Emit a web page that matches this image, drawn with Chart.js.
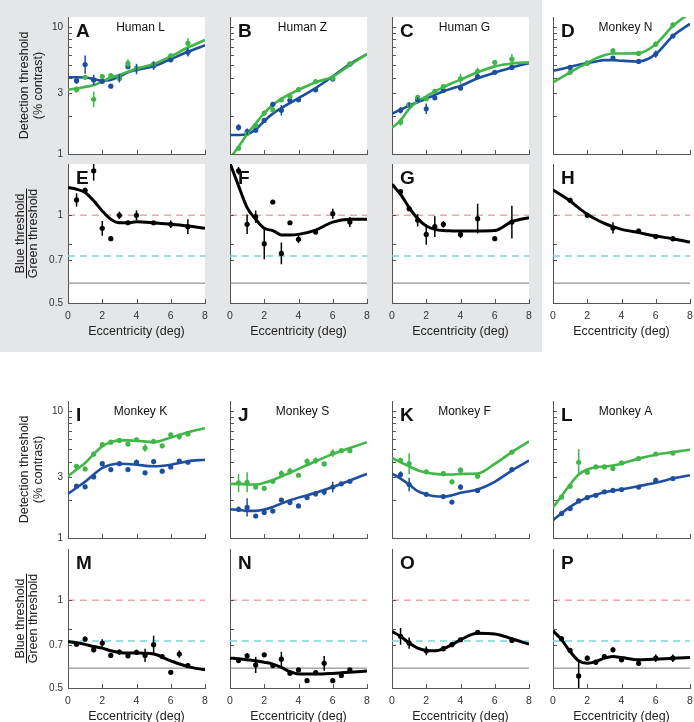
<!DOCTYPE html>
<html>
<head>
<meta charset="utf-8">
<script src="https://cdn.jsdelivr.net/npm/chart.js@4.4.1/dist/chart.umd.min.js"></script>
<style>
  body { margin: 0; width: 694px; height: 722px; overflow: hidden; background: #fff; position: relative; }
  #shade { position: absolute; left: 0; top: 0; width: 542px; height: 352px; background: #e5e6e7; }
  canvas { position: absolute; }
</style>
</head>
<body>
<div id="shade"></div>
<script>
const fitX = [0, 0.5, 1, 1.5, 2, 2.5, 3, 3.5, 4, 5, 6, 7, 8];
const xTicks = [0, 2, 4, 6, 8];
const thrTicks = [1, 2, 3, 4, 5, 6, 7, 8, 9, 10];
const thrLabels = [1, 3, 10];
const ratioTicks = [0.5, 0.7, 0.8, 1];
const ratioLabels = [0.5, 0.7, 1];
const refLevels = [1, 0.725, 0.585]; // red dashed, cyan dashed, grey solid

// A  Human L
const eccA = [0.5, 1, 1.5, 2, 2.5, 3, 3.5, 4, 5, 6, 7];
const greenA = [3.22, 4.02, 2.70, 4.07, 4.14, 3.95, 5.17, 4.75, 5.11, 5.94, 7.44];
const greenErrA = [1.06, 1, 1.15, 1.05, 1.04, 1, 1.08, 1.04, 1, 1.04, 1.1];
const blueA = [3.78, 5.07, 3.83, 3.74, 3.42, 3.95, 4.87, 4.67, 4.96, 5.52, 6.34];
const blueErrA = [1.06, 1.18, 1.1, 1.04, 1, 1.08, 1, 1.1, 1.08, 1.04, 1.08];
const fitGreenA = [3.22, 3.28, 3.38, 3.48, 3.72, 4.0, 4.19, 4.45, 4.70, 5.11, 5.87, 6.90, 7.91];
const fitBlueA = [4.02, 4.02, 4.0, 3.90, 3.78, 3.83, 4.07, 4.40, 4.61, 4.90, 5.59, 6.38, 7.19];

// B  Human Z
const eccB = [0.5, 1, 1.5, 2, 2.5, 3, 3.5, 4, 5, 6, 7];
const greenB = [1.11, 1.45, 1.68, 2.10, 2.23, 2.67, 2.84, 3.22, 3.72, 3.95, 5.11];
const greenErrB = [1.04, 1, 1.05, 1.05, 1.05, 1.04, 1, 1, 1, 1, 1.03];
const blueB = [1.62, 1.50, 1.54, 1.84, 2.46, 2.21, 2.64, 2.67, 3.20, 3.90, 5.11];
const blueErrB = [1.06, 1.06, 1.04, 1.04, 1.04, 1.1, 1, 1, 1, 1, 1];
const fitGreenB = [0.925, 1.14, 1.43, 1.74, 2.10, 2.44, 2.72, 2.98, 3.20, 3.67, 4.07, 5.02, 6.12];
const fitBlueB = [1.41, 1.41, 1.43, 1.56, 1.82, 2.08, 2.30, 2.52, 2.75, 3.30, 4.09, 5.11, 6.12];

// C  Human G
const eccC = [0.5, 1, 1.5, 2, 2.5, 3, 4, 5, 6, 7];
const greenC = [1.79, 2.44, 2.80, 2.72, 3.12, 3.39, 3.90, 4.48, 5.27, 5.58];
const greenErrC = [1.07, 1, 1.04, 1, 1.04, 1.03, 1.1, 1.07, 1.04, 1.1];
const blueC = [2.21, 2.44, 2.69, 2.27, 2.77, 3.16, 3.31, 4.07, 4.40, 4.81];
const blueErrC = [1.06, 1.04, 1.04, 1.1, 1.04, 1, 1.05, 1.05, 1, 1];
const fitGreenC = [1.61, 1.84, 2.27, 2.61, 2.84, 3.11, 3.36, 3.61, 3.85, 4.40, 4.90, 5.17, 5.27];
const fitBlueC = [2.08, 2.23, 2.41, 2.56, 2.72, 2.92, 3.12, 3.28, 3.44, 3.95, 4.37, 4.81, 5.20];

// D  Monkey N
const eccD = [1, 2, 3.5, 5, 6, 7];
const greenD = [4.40, 5.2, 6.5, 6.2, 7.33, 10.4];
const greenErrD = [1.03, 1, 1.05, 1.03, 1.05, 1.05];
const blueD = [4.81, 5.2, 5.7, 5.36, 6.12, 8.5];
const blueErrD = [1.03, 1, 1.04, 1, 1.07, 1.03];
const fitGreenD = [3.67, 4.02, 4.40, 4.81, 5.2, 5.66, 6.0, 6.19, 6.19, 6.23, 7.33, 10.2, 12.9];
const fitBlueD = [4.53, 4.67, 4.87, 5.05, 5.2, 5.36, 5.49, 5.49, 5.43, 5.36, 6.12, 8.5, 10.6];

// E-H  blue/green ratio, top block
const eccE = [0.5, 1, 1.5, 2, 2.5, 3, 3.5, 4, 5, 6, 7];
const ratioE = [1.129, 1.219, 1.421, 0.902, 0.831, 1.0, 0.943, 1.0, 0.943, 0.931, 0.914];
const ratioErrE = [1.054, 1.02, 1.08, 1.06, 1, 1.03, 1, 1.04, 1, 1.03, 1.06];
const fitRatioE = [1.245, 1.229, 1.197, 1.121, 1.035, 0.969, 0.943, 0.943, 0.951, 0.943, 0.931, 0.919, 0.902];

const eccF = [0.5, 1, 1.5, 2, 2.5, 3, 3.5, 4, 5, 6, 7];
const ratioF = [1.421, 0.931, 0.989, 0.799, 1.111, 0.740, 0.943, 0.827, 0.876, 1.013, 0.948];
const ratioErrF = [1.03, 1.08, 1.05, 1.13, 1, 1.09, 1, 1.03, 1, 1.04, 1.04];
const fitRatioF = [1.51, 1.262, 1.063, 0.969, 0.902, 0.886, 0.856, 0.855, 0.86, 0.89, 0.948, 0.969, 0.969];

const eccG = [0.5, 1, 1.5, 2, 2.5, 3, 4, 5, 6, 7];
const ratioG = [1.206, 1.054, 0.961, 0.86, 0.914, 0.931, 0.86, 0.974, 0.831, 0.948];
const ratioErrG = [1.02, 1.02, 1.05, 1.085, 1.085, 1.027, 1.03, 1.125, 1, 1.138];
const fitRatioG = [1.279, 1.181, 1.063, 0.974, 0.919, 0.895, 0.886, 0.884, 0.883, 0.883, 0.886, 0.951, 0.982];

const eccH = [1, 2, 3.5, 5, 6, 7];
const ratioH = [1.126, 1.0, 0.905, 0.883, 0.845, 0.831];
const ratioErrH = [1.02, 1.02, 1.045, 1.02, 1.02, 1.02];
const fitRatioH = [1.222, 1.172, 1.12, 1.06, 1.008, 0.969, 0.938, 0.914, 0.895, 0.872, 0.849, 0.831, 0.809];

// I  Monkey K
const eccI = [0.5, 1, 1.5, 2, 2.5, 3, 3.5, 4, 4.5, 5, 5.5, 6, 6.5, 7];
const greenI = [3.67, 3.50, 4.58, 5.43, 5.69, 5.87, 5.49, 5.94, 5.11, 5.77, 5.32, 6.50, 6.30, 6.61];
const greenErrI = [1.03, 1, 1.05, 1, 1, 1.03, 1, 1.04, 1.07, 1, 1, 1, 1.06, 1];
const blueI = [2.56, 2.53, 3.03, 3.85, 3.46, 3.85, 3.46, 3.95, 3.26, 4.0, 3.36, 3.63, 4.04, 3.95];
const blueErrI = [1, 1.04, 1.03, 1, 1, 1, 1, 1.05, 1, 1.05, 1, 1, 1, 1.03];
const fitGreenI = [3.07, 3.46, 3.90, 4.58, 5.27, 5.69, 5.87, 5.87, 5.83, 5.69, 6.19, 6.81, 7.33];
const fitBlueI = [2.23, 2.49, 2.77, 3.16, 3.56, 3.78, 3.85, 3.83, 3.78, 3.67, 3.78, 4.02, 4.14];

// J  Monkey S
const eccJ = [0.5, 1, 1.5, 2, 2.5, 3, 3.5, 4, 4.5, 5, 5.5, 6, 6.5, 7];
const greenJ = [2.72, 2.75, 2.52, 2.46, 2.80, 3.22, 3.36, 3.12, 4.02, 4.07, 3.83, 4.67, 4.87, 4.87];
const greenErrJ = [1.18, 1.2, 1.03, 1, 1.04, 1.06, 1.06, 1, 1.05, 1.06, 1, 1.07, 1, 1];
const blueJ = [1.685, 1.74, 1.49, 1.59, 1.63, 1.99, 1.90, 1.79, 2.08, 2.23, 2.30, 2.52, 2.67, 2.80];
const blueErrJ = [1.05, 1.18, 1, 1, 1, 1, 1.04, 1, 1.03, 1.05, 1.06, 1.1, 1, 1];
const fitGreenJ = [2.67, 2.67, 2.64, 2.64, 2.72, 2.86, 3.05, 3.26, 3.50, 4.02, 4.58, 5.11, 5.69];
const fitBlueJ = [1.685, 1.665, 1.635, 1.635, 1.675, 1.757, 1.866, 1.98, 2.08, 2.27, 2.52, 2.84, 3.2];

// K  Monkey F
const eccK = [0.5, 1, 2, 3, 3.5, 4, 5, 7];
const greenK = [4.09, 3.85, 3.32, 3.22, 2.77, 3.42, 3.07, 4.75];
const greenErrK = [1.04, 1.21, 1.03, 1.05, 1.04, 1.05, 1.04, 1.04];
const blueK = [3.16, 2.64, 2.21, 2.12, 1.92, 2.52, 2.37, 3.46];
const blueErrK = [1.06, 1.13, 1.03, 1.03, 1, 1.05, 1.04, 1.03];
const fitGreenK = [4.27, 3.95, 3.67, 3.42, 3.28, 3.20, 3.16, 3.16, 3.20, 3.22, 3.83, 4.75, 5.77];
const fitBlueK = [3.22, 2.94, 2.64, 2.34, 2.21, 2.13, 2.12, 2.17, 2.27, 2.41, 2.77, 3.40, 4.07];

// L  Monkey A
const eccL = [0.5, 1, 1.5, 2, 2.5, 3, 3.5, 4, 5, 6, 7];
const greenL = [2.10, 2.56, 3.95, 3.30, 3.63, 3.63, 3.52, 3.90, 4.22, 4.59, 4.67];
const greenErrL = [1.03, 1.03, 1.27, 1.03, 1, 1.03, 1.04, 1.03, 1.03, 1, 1.03];
const blueL = [1.558, 1.705, 1.96, 2.08, 2.17, 2.31, 2.37, 2.41, 2.52, 2.84, 2.94];
const blueErrL = [1.03, 1.03, 1.04, 1.03, 1.03, 1.03, 1.04, 1.03, 1.04, 1.05, 1.03];
const fitGreenL = [1.74, 2.14, 2.64, 3.16, 3.46, 3.61, 3.65, 3.72, 3.85, 4.22, 4.53, 4.75, 4.96];
const fitBlueL = [1.38, 1.568, 1.757, 1.934, 2.08, 2.19, 2.29, 2.36, 2.41, 2.56, 2.72, 2.94, 3.12];

// M-P  blue/green ratio, bottom block
const eccM = [0.5, 1, 1.5, 2, 2.5, 3, 3.5, 4, 4.5, 5, 5.5, 6, 6.5, 7];
const ratioM = [0.707, 0.736, 0.676, 0.713, 0.647, 0.664, 0.645, 0.663, 0.647, 0.704, 0.641, 0.566, 0.654, 0.597];
const ratioErrM = [1.01, 1.02, 1.02, 1.03, 1, 1.02, 1, 1.02, 1.054, 1.074, 1, 1, 1.03, 1.02];
const fitRatioM = [0.722, 0.715, 0.706, 0.694, 0.685, 0.671, 0.662, 0.659, 0.659, 0.654, 0.620, 0.592, 0.577];

const eccN = [0.5, 1, 1.5, 2, 2.5, 3, 3.5, 4, 4.5, 5, 5.5, 6, 6.5, 7];
const ratioN = [0.621, 0.645, 0.600, 0.650, 0.597, 0.628, 0.562, 0.577, 0.530, 0.565, 0.608, 0.530, 0.552, 0.577];
const ratioErrN = [1.01, 1.02, 1.066, 1, 1, 1.06, 1.02, 1, 1, 1, 1.06, 1, 1, 1.01];
const fitRatioN = [0.633, 0.630, 0.625, 0.620, 0.613, 0.604, 0.588, 0.569, 0.558, 0.558, 0.561, 0.566, 0.572];

const eccO = [0.5, 1, 2, 3, 3.5, 4, 5, 7];
const ratioO = [0.752, 0.713, 0.671, 0.682, 0.704, 0.732, 0.776, 0.728];
const ratioErrO = [1.068, 1.045, 1.035, 1.02, 1.01, 1, 1.01, 1.01];
const fitRatioO = [0.782, 0.752, 0.713, 0.685, 0.673, 0.671, 0.682, 0.704, 0.732, 0.770, 0.766, 0.738, 0.707];

const eccP = [0.5, 1, 1.5, 2, 2.5, 3, 3.5, 4, 5, 6, 7];
const ratioP = [0.738, 0.673, 0.550, 0.633, 0.613, 0.641, 0.676, 0.625, 0.608, 0.633, 0.633];
const ratioErrP = [1.02, 1.02, 1.117, 1.02, 1.02, 1.02, 1.02, 1.02, 1.02, 1.03, 1.03];
const fitRatioP = [0.786, 0.732, 0.667, 0.620, 0.608, 0.616, 0.633, 0.641, 0.636, 0.625, 0.628, 0.633, 0.636];

const GREEN = "#41b649", BLUE = "#1e4f9f";
const FONT = '"Liberation Sans", Arial, Helvetica, sans-serif';
Chart.defaults.font.family = FONT;
Chart.defaults.color = "#222";

// layout of the grid (page pixels)
const colLeft = [68, 230, 392, 553];
const plotW = 138;
const thrTop = [17, 401], thrPlotH = 137;
const ratioTop = [164, 549], ratioPlotH = 139;
const xBoxH = 36;

const thresholdPanels = [
  { letter: "A", name: "Human L", col: 0, blk: 0, x: eccA, g: greenA, ge: greenErrA, b: blueA, be: blueErrA, fg: fitGreenA, fb: fitBlueA },
  { letter: "B", name: "Human Z", col: 1, blk: 0, x: eccB, g: greenB, ge: greenErrB, b: blueB, be: blueErrB, fg: fitGreenB, fb: fitBlueB },
  { letter: "C", name: "Human G", col: 2, blk: 0, x: eccC, g: greenC, ge: greenErrC, b: blueC, be: blueErrC, fg: fitGreenC, fb: fitBlueC },
  { letter: "D", name: "Monkey N", col: 3, blk: 0, x: eccD, g: greenD, ge: greenErrD, b: blueD, be: blueErrD, fg: fitGreenD, fb: fitBlueD },
  { letter: "I", name: "Monkey K", col: 0, blk: 1, x: eccI, g: greenI, ge: greenErrI, b: blueI, be: blueErrI, fg: fitGreenI, fb: fitBlueI },
  { letter: "J", name: "Monkey S", col: 1, blk: 1, x: eccJ, g: greenJ, ge: greenErrJ, b: blueJ, be: blueErrJ, fg: fitGreenJ, fb: fitBlueJ },
  { letter: "K", name: "Monkey F", col: 2, blk: 1, x: eccK, g: greenK, ge: greenErrK, b: blueK, be: blueErrK, fg: fitGreenK, fb: fitBlueK },
  { letter: "L", name: "Monkey A", col: 3, blk: 1, x: eccL, g: greenL, ge: greenErrL, b: blueL, be: blueErrL, fg: fitGreenL, fb: fitBlueL }
];
const ratioPanels = [
  { letter: "E", col: 0, blk: 0, x: eccE, r: ratioE, re: ratioErrE, fr: fitRatioE },
  { letter: "F", col: 1, blk: 0, x: eccF, r: ratioF, re: ratioErrF, fr: fitRatioF },
  { letter: "G", col: 2, blk: 0, x: eccG, r: ratioG, re: ratioErrG, fr: fitRatioG },
  { letter: "H", col: 3, blk: 0, x: eccH, r: ratioH, re: ratioErrH, fr: fitRatioH },
  { letter: "M", col: 0, blk: 1, x: eccM, r: ratioM, re: ratioErrM, fr: fitRatioM },
  { letter: "N", col: 1, blk: 1, x: eccN, r: ratioN, re: ratioErrN, fr: fitRatioN },
  { letter: "O", col: 2, blk: 1, x: eccO, r: ratioO, re: ratioErrO, fr: fitRatioO },
  { letter: "P", col: 3, blk: 1, x: eccP, r: ratioP, re: ratioErrP, fr: fitRatioP }
];

// white plot box, error bars, inward ticks, panel letters
const panelDecor = {
  id: "panelDecor",
  beforeDraw(chart) {
    const a = chart.chartArea, ctx = chart.ctx;
    ctx.save();
    ctx.fillStyle = "#fff";
    ctx.fillRect(a.left, a.top, a.right - a.left, a.bottom - a.top);
    ctx.restore();
  },
  afterDatasetsDraw(chart) {
    const a = chart.chartArea, ctx = chart.ctx, ys = chart.scales.y;
    ctx.save();
    ctx.beginPath();
    ctx.rect(a.left, a.top, a.right - a.left, a.bottom - a.top);
    ctx.clip();
    chart.data.datasets.forEach((ds, i) => {
      if (!ds.errs) return;
      const meta = chart.getDatasetMeta(i);
      ctx.strokeStyle = ds.borderColor;
      ctx.lineWidth = 1.5;
      meta.data.forEach((pt, j) => {
        const f = ds.errs[j];
        if (!f || f <= 1) return;
        const v = ds.data[j].y;
        ctx.beginPath();
        ctx.moveTo(pt.x, ys.getPixelForValue(v / f));
        ctx.lineTo(pt.x, ys.getPixelForValue(v * f));
        ctx.stroke();
      });
    });
    ctx.restore();
  },
  afterDraw(chart, args, opts) {
    const a = chart.chartArea, ctx = chart.ctx;
    const xs = chart.scales.x, ys = chart.scales.y;
    ctx.save();
    ctx.strokeStyle = "#555";
    ctx.lineWidth = 1;
    xs.ticks.forEach(t => {
      const px = Math.round(xs.getPixelForValue(t.value)) + 0.5;
      ctx.beginPath(); ctx.moveTo(px, a.bottom); ctx.lineTo(px, a.bottom - 4); ctx.stroke();
    });
    ys.ticks.forEach(t => {
      const py = Math.round(ys.getPixelForValue(t.value)) + 0.5;
      ctx.beginPath(); ctx.moveTo(a.left, py); ctx.lineTo(a.left + 4, py); ctx.stroke();
    });
    ctx.fillStyle = "#111";
    ctx.textAlign = "left";
    ctx.textBaseline = "alphabetic";
    ctx.font = "bold 19px " + FONT;
    ctx.fillText(opts.letter, a.left + 8, a.top + 20);
    if (opts.name) {
      ctx.font = "12px " + FONT;
      ctx.textAlign = "center";
      ctx.fillText(opts.name, (a.left + a.right) / 2 + 4, a.top + 14);
    }
    if (opts.fractionX) {
      // bar between "Blue threshold" and "Green threshold"
      ctx.font = "12.5px " + FONT;
      const w = ctx.measureText("Green threshold").width;
      const cy = (a.top + a.bottom) / 2;
      ctx.strokeStyle = "#111";
      ctx.beginPath(); ctx.moveTo(opts.fractionX, cy - w / 2); ctx.lineTo(opts.fractionX, cy + w / 2); ctx.stroke();
    }
    ctx.restore();
  }
};
Chart.register(panelDecor);

function pts(xs, ys) {
  return xs.map((x, i) => ({ x: x, y: ys[i] }));
}

function makeCanvas(left, top, w, h) {
  const c = document.createElement("canvas");
  c.width = w; c.height = h;
  c.style.left = left + "px"; c.style.top = top + "px";
  c.style.width = w + "px"; c.style.height = h + "px";
  document.body.appendChild(c);
  return c.getContext("2d");
}

function axisX(withLabels) {
  return {
    type: "linear", min: 0, max: 8,
    afterBuildTicks: s => { s.ticks = xTicks.map(v => ({ value: v })); },
    afterFit: s => { s.height = withLabels ? xBoxH : 8; s.paddingLeft = 0; s.paddingRight = 0; },
    grid: { display: false, drawTicks: false },
    border: { display: true, color: "#555", width: 1 },
    ticks: { display: withLabels, autoSkip: false, maxRotation: 0, padding: 7, color: "#333", font: { size: 10.5 } },
    title: { display: withLabels, text: "Eccentricity (deg)", color: "#222", font: { size: 12.5 }, padding: { top: 0, bottom: 0 } }
  };
}

function axisY(col, min, max, tickVals, labelVals, title) {
  const padL = col === 0 ? 68 : 8;
  return {
    type: "logarithmic", min: min, max: max,
    afterBuildTicks: s => { s.ticks = tickVals.map(v => ({ value: v })); },
    afterFit: s => { s.width = padL; s.paddingTop = 0; s.paddingBottom = 0; },
    grid: { display: false, drawTicks: false },
    border: { display: true, color: "#555", width: 1 },
    ticks: {
      display: col === 0, autoSkip: false, padding: 5, color: "#333", font: { size: 10 },
      callback: v => labelVals.includes(v) ? String(v) : ""
    },
    title: title && col === 0 ? title : { display: false }
  };
}

function baseOptions(scales, decor) {
  return {
    responsive: false, animation: false, devicePixelRatio: 1,
    layout: { padding: { top: 8, left: 0, right: 3, bottom: 0 } },
    scales: scales,
    plugins: { legend: { display: false }, tooltip: { enabled: false }, panelDecor: decor }
  };
}

thresholdPanels.forEach(p => {
  const padL = p.col === 0 ? 68 : 8;
  const ctx = makeCanvas(colLeft[p.col] - padL, thrTop[p.blk] - 8, padL + plotW + 3, 8 + thrPlotH + 8);
  new Chart(ctx, {
    type: "scatter",
    data: {
      datasets: [
        { data: pts(p.x, p.g), errs: p.ge, backgroundColor: GREEN, borderColor: GREEN, pointRadius: 2.6, pointBorderWidth: 0 },
        { data: pts(p.x, p.b), errs: p.be, backgroundColor: BLUE, borderColor: BLUE, pointRadius: 2.6, pointBorderWidth: 0 },
        { data: pts(fitX, p.fg), showLine: true, borderColor: GREEN, borderWidth: 2.6, pointRadius: 0, cubicInterpolationMode: "monotone", tension: 0.4 },
        { data: pts(fitX, p.fb), showLine: true, borderColor: BLUE, borderWidth: 2.6, pointRadius: 0, cubicInterpolationMode: "monotone", tension: 0.4 }
      ]
    },
    options: baseOptions({
      x: axisX(false),
      y: axisY(p.col, 1, 12, thrTicks, thrLabels, {
        display: true, text: ["Detection threshold", "(% contrast)"], color: "#222",
        font: { size: 12.5, lineHeight: 1.12 }, padding: { top: 18, bottom: 0 }
      })
    }, { letter: p.letter, name: p.name })
  });
});

ratioPanels.forEach(p => {
  const padL = p.col === 0 ? 68 : 8;
  const ctx = makeCanvas(colLeft[p.col] - padL, ratioTop[p.blk] - 8, padL + plotW + 3, 8 + ratioPlotH + xBoxH);
  const refLine = (v, color, dash, w) => ({
    data: pts([0, 8], [v, v]), showLine: true, borderColor: color, borderWidth: w, borderDash: dash, pointRadius: 0
  });
  new Chart(ctx, {
    type: "scatter",
    data: {
      datasets: [
        { data: pts(p.x, p.r), errs: p.re, backgroundColor: "#000", borderColor: "#000", pointRadius: 2.6, pointBorderWidth: 0 },
        { data: pts(fitX, p.fr), showLine: true, borderColor: "#000", borderWidth: 3, pointRadius: 0, cubicInterpolationMode: "monotone", tension: 0.4 },
        refLine(refLevels[2], "#777", [], 1),
        refLine(refLevels[1], "#79d4dc", [7, 5], 1.4),
        refLine(refLevels[0], "#f2a5ab", [7, 5], 1.4)
      ]
    },
    options: baseOptions({
      x: axisX(true),
      y: axisY(p.col, 0.5, 1.5, ratioTicks, ratioLabels, {
        display: true, text: ["Blue threshold", "Green threshold"], color: "#222",
        font: { size: 12.5, lineHeight: 1.04 }, padding: { top: 14.5, bottom: 0 }
      })
    }, { letter: p.letter, fractionX: p.col === 0 ? 26.5 : 0 })
  });
});
</script>
</body>
</html>
